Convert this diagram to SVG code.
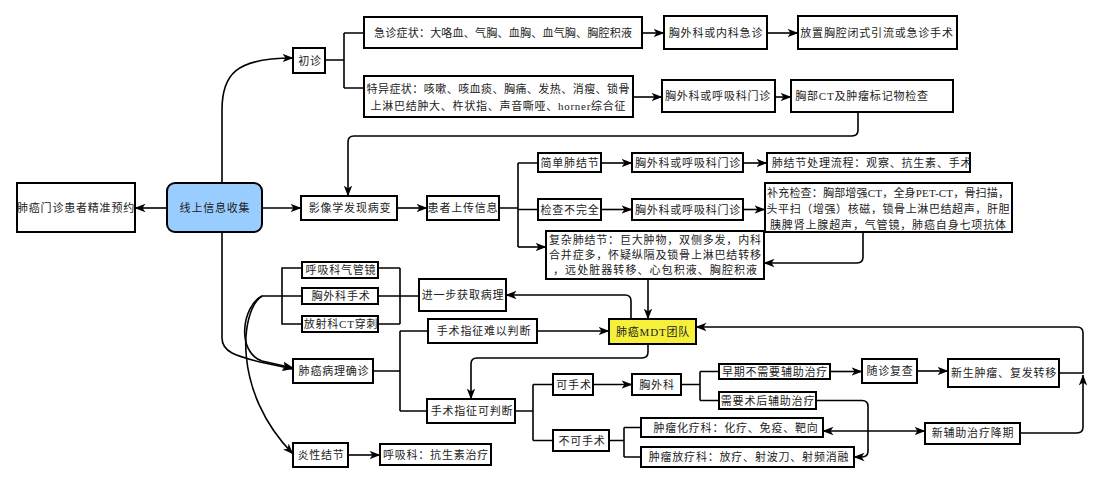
<svg xmlns="http://www.w3.org/2000/svg" width="1108" height="486" viewBox="0 0 1108 486">
<style>
.box{fill:#fff;stroke:#000;stroke-width:2}
.blue{fill:#99CCFF}
.yel{fill:#F7F03A}
.ln{fill:none;stroke:#000;stroke-width:1.6}
.ar{marker-end:url(#arr)}
text{font-family:"Liberation Serif","Noto Sans CJK SC",serif;font-size:11px;letter-spacing:0.8px;text-anchor:middle;dominant-baseline:central;fill:#222}
text.f{letter-spacing:0}
</style>
<defs>
<marker id="arr" markerUnits="userSpaceOnUse" markerWidth="11" markerHeight="10" viewBox="0 0 11 10" refX="10.5" refY="5" orient="auto-start-reverse">
<path d="M0,0.8 L11,5 L0,9.2 L3,5 z" fill="#000"/>
</marker>
</defs>
<rect width="1108" height="486" fill="#fff"/>
<g id="connectors">
<path class="ln ar" d="M222,183 L222,110 C222,75 235,58 293,58"/>
<path class="ln ar" d="M167,208 L135,208"/>
<path class="ln ar" d="M262,208 L301,208"/>
<path class="ln ar" d="M397,208 L427,208"/>
<path class="ln" d="M325,60 L344,60 M344,33 L344,88 M344,33 L364,33 M344,88 L364,88"/>
<path class="ln ar" d="M642,33 L664,33"/>
<path class="ln ar" d="M767,33 L798,33"/>
<path class="ln ar" d="M633,97 L662,97"/>
<path class="ln ar" d="M775,97 L791,97"/>
<path class="ln ar" d="M858,112 L858,130 Q858,136 852,136 L354,136 Q348,136 348,142 L348,196"/>
<path class="ln" d="M499,208 L518,208 M518,163 L518,247 M518,163 L538,163 M518,209.5 L538,209.5"/>
<path class="ln ar" d="M518,247 L546,247"/>
<path class="ln ar" d="M601,163 L632,163"/>
<path class="ln ar" d="M743,163 L767,163"/>
<path class="ln ar" d="M601,209.5 L632,209.5"/>
<path class="ln ar" d="M743,209.5 L765,209.5"/>
<path class="ln ar" d="M863,232 L863,257 Q863,263 857,263 L764,263"/>
<path class="ln ar" d="M648,279 L648,319"/>
<path class="ln ar" d="M631,319 L631,301 Q631,295 625,295 L506,295"/>
<path class="ln" d="M419,296 L378,296 M400,268 L400,324 M378,268 L400,268 M378,324 L400,324"/>
<path class="ln" d="M302,268 L282,268 L282,324 L302,324 M302,296 L262,296"/>
<path class="ln ar" d="M262,296 C240,310 232,392 293,454"/>
<path class="ln ar" d="M262,296 C242,306 236,352 262,361 L293,368"/>
<path class="ln ar" d="M222,232 L222,338 C222,352 236,356 260,362 L293,369"/>
<path class="ln" d="M373,371 L400,371 M400,331 L400,411 M400,331 L428,331 M400,411 L427,411"/>
<path class="ln ar" d="M537,331 L609,331"/>
<path class="ln ar" d="M648,344 L648,352 Q648,358 642,358 L477,358 Q471,358 471,364 L471,399"/>
<path class="ln" d="M515,411 L533,411 M533,384.5 L533,440.5 M533,384.5 L553,384.5 M533,440.5 L553,440.5"/>
<path class="ln ar" d="M593,384.5 L632,384.5"/>
<path class="ln" d="M681,384.5 L700,384.5 M700,371.5 L700,400.5 M700,371.5 L719,371.5 M700,400.5 L719,400.5"/>
<path class="ln ar" d="M830,371.5 L862,371.5"/>
<path class="ln ar" d="M917,371 L948,371"/>
<path class="ln ar" d="M1059,373 L1083,373 L1083,333 Q1083,327 1077,327 L696,327"/>
<path class="ln ar" d="M1020,433 L1077,433 Q1083,433 1083,427 L1083,375"/>
<path class="ln ar" d="M816,400.5 L862,400.5 Q868,400.5 868,406.5 L868,451 Q868,457 862,457 L854,457"/>
<path class="ln ar" d="M873,431 L925,431"/>
<path class="ln ar" d="M873,431 L823,431"/>
<path class="ln" d="M609,440.5 L624,440.5 M624,427.5 L624,457 M624,427.5 L641,427.5 M624,457 L641,457"/>
<path class="ln ar" d="M348,455 L380,455"/>
</g>
<g id="n1"><rect class="box" x="17" y="183" width="118" height="49"/><text x="76" y="208">肺癌门诊患者精准预约</text></g>
<g id="n2"><rect class="box blue" x="167" y="183" width="95" height="49" rx="8"/><text x="215" y="208">线上信息收集</text></g>
<g id="n3"><rect class="box" x="301" y="196" width="96" height="24"/><text x="350" y="208">影像学发现病变</text></g>
<g id="n4"><rect class="box" x="427" y="196" width="72" height="24"/><text x="463" y="208">患者上传信息</text></g>
<g id="n5"><rect class="box" x="293" y="48" width="32" height="25"/><text x="310" y="60.5">初诊</text></g>
<g id="n6"><rect class="box" x="364" y="17" width="278" height="31"/><text class="f" x="503" y="33" textLength="258" lengthAdjust="spacing">急诊症状：大咯血、气胸、血胸、血气胸、胸腔积液</text></g>
<g id="n7"><rect class="box" x="364" y="76" width="269" height="41"/><text class="f" x="498" y="89" textLength="263" lengthAdjust="spacing">特异症状：咳嗽、咳血痰、胸痛、发热、消瘦、锁骨</text><text class="f" x="498" y="106" textLength="255" lengthAdjust="spacing">上淋巴结肿大、杵状指、声音嘶哑、horner综合征</text></g>
<g id="n8"><rect class="box" x="664" y="16" width="103" height="33"/><text x="716" y="33">胸外科或内科急诊</text></g>
<g id="n9"><rect class="box" x="798" y="16" width="159" height="33"/><text x="877" y="33">放置胸腔闭式引流或急诊手术</text></g>
<g id="n10"><rect class="box" x="662" y="80" width="113" height="32"/><text x="718" y="96">胸外科或呼吸科门诊</text></g>
<g id="n11"><rect class="box" x="791" y="80" width="162" height="32"/><text x="862" y="96">胸部CT及肿瘤标记物检查</text></g>
<g id="n12"><rect class="box" x="538" y="153" width="63" height="19"/><text x="570" y="162.5">简单肺结节</text></g>
<g id="n13"><rect class="box" x="632" y="153" width="111" height="19"/><text x="688" y="162.5">胸外科或呼吸科门诊</text></g>
<g id="n14"><rect class="box" x="767" y="153" width="203" height="19"/><text x="872" y="162.5">肺结节处理流程：观察、抗生素、手术</text></g>
<g id="n15"><rect class="box" x="538" y="199" width="63" height="21"/><text x="570" y="209.5">检查不完全</text></g>
<g id="n16"><rect class="box" x="632" y="199" width="111" height="21"/><text x="688" y="209.5">胸外科或呼吸科门诊</text></g>
<g id="n17"><rect class="box" x="765" y="183" width="247" height="49"/><text class="f" x="888" y="193" textLength="242" lengthAdjust="spacing">补充检查：胸部增强CT，全身PET-CT，骨扫描，</text><text class="f" x="888" y="209" textLength="243" lengthAdjust="spacing">头平扫（增强）核磁，锁骨上淋巴结超声，肝胆</text><text class="f" x="888" y="225" textLength="236" lengthAdjust="spacing">胰脾肾上腺超声，气管镜，肺癌自身七项抗体</text></g>
<g id="n18"><rect class="box" x="546" y="231" width="218" height="48"/><text class="f" x="655" y="240" textLength="212" lengthAdjust="spacing">复杂肺结节：巨大肿物，双侧多发，内科</text><text class="f" x="655" y="255" textLength="212" lengthAdjust="spacing">合并症多，怀疑纵隔及锁骨上淋巴结转移</text><text class="f" x="655" y="270" textLength="204" lengthAdjust="spacing">，远处脏器转移、心包积液、胸腔积液</text></g>
<g id="n19"><rect class="box yel" x="609" y="319" width="87" height="25"/><text x="653" y="331.5">肺癌MDT团队</text></g>
<g id="n20"><rect class="box" x="419" y="279" width="87" height="32"/><text x="463" y="295">进一步获取病理</text></g>
<g id="n21"><rect class="box" x="302" y="262" width="76" height="16"/><text x="341" y="270">呼吸科气管镜</text></g>
<g id="n22"><rect class="box" x="302" y="288" width="76" height="16"/><text x="341" y="296">胸外科手术</text></g>
<g id="n23"><rect class="box" x="302" y="316" width="76" height="16"/><text x="341" y="324">放射科CT穿刺</text></g>
<g id="n24"><rect class="box" x="293" y="359" width="80" height="24"/><text x="334" y="371">肺癌病理确诊</text></g>
<g id="n25"><rect class="box" x="428" y="319" width="109" height="24"/><text x="484" y="331">手术指征难以判断</text></g>
<g id="n26"><rect class="box" x="427" y="399" width="88" height="24"/><text x="472" y="411">手术指征可判断</text></g>
<g id="n27"><rect class="box" x="553" y="374" width="40" height="21"/><text x="574" y="384.5">可手术</text></g>
<g id="n28"><rect class="box" x="553" y="430" width="56" height="21"/><text x="582" y="440.5">不可手术</text></g>
<g id="n29"><rect class="box" x="632" y="374" width="49" height="21"/><text x="657" y="384.5">胸外科</text></g>
<g id="n30"><rect class="box" x="719" y="364" width="111" height="15"/><text x="775" y="371.5">早期不需要辅助治疗</text></g>
<g id="n31"><rect class="box" x="719" y="392" width="97" height="17"/><text x="768" y="400.5">需要术后辅助治疗</text></g>
<g id="n32"><rect class="box" x="641" y="418" width="182" height="19"/><text x="736" y="427.5">肿瘤化疗科：化疗、免疫、靶向</text></g>
<g id="n33"><rect class="box" x="641" y="447" width="213" height="20"/><text x="749" y="457">肿瘤放疗科：放疗、射波刀、射频消融</text></g>
<g id="n34"><rect class="box" x="862" y="359" width="55" height="24"/><text x="890" y="371">随诊复查</text></g>
<g id="n35"><rect class="box" x="948" y="359" width="111" height="28"/><text x="1004" y="373">新生肿瘤、复发转移</text></g>
<g id="n36"><rect class="box" x="925" y="423" width="95" height="21"/><text x="973" y="433">新辅助治疗降期</text></g>
<g id="n37"><rect class="box" x="293" y="443" width="55" height="24"/><text x="321" y="455">炎性结节</text></g>
<g id="n38"><rect class="box" x="380" y="444" width="111" height="21"/><text x="436" y="454.5">呼吸科：抗生素治疗</text></g>
</svg>
